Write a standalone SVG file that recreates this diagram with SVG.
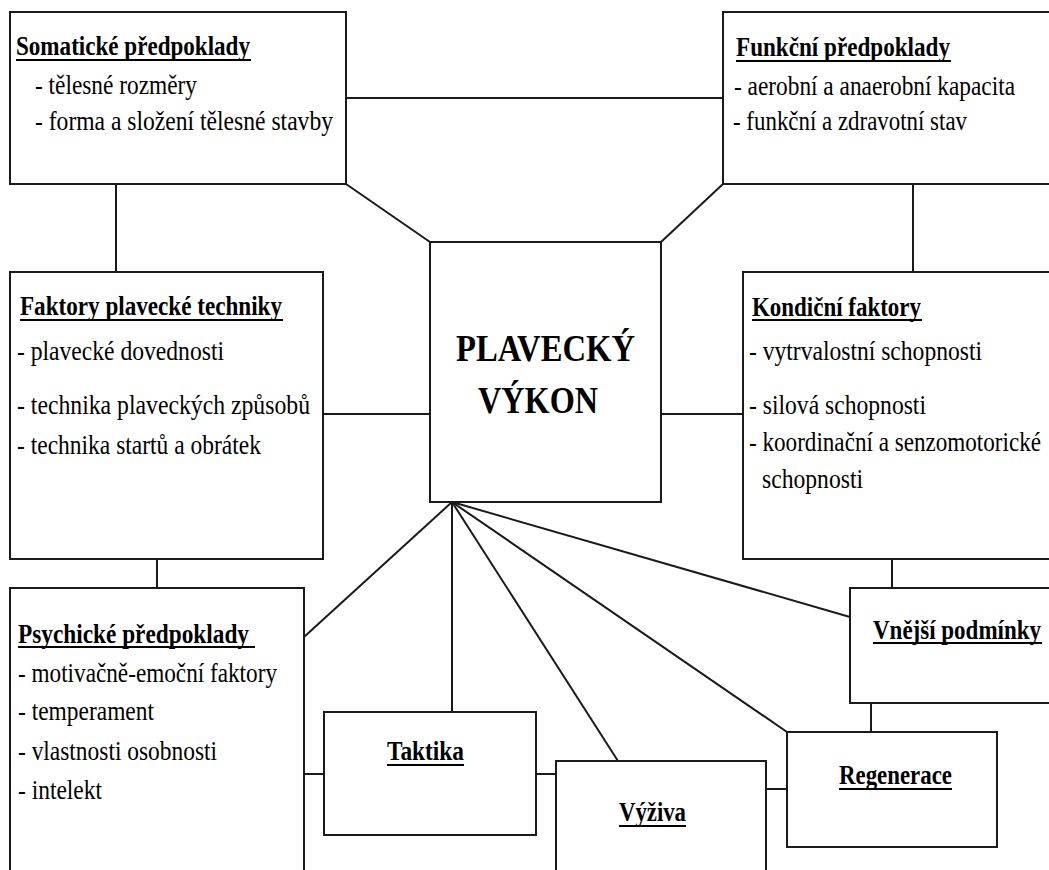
<svg xmlns="http://www.w3.org/2000/svg" width="1049" height="870" viewBox="0 0 1049 870">
<style>
.box{fill:#fff;stroke:#1a1a1a;stroke-width:2}
.c{stroke:#1a1a1a;stroke-width:2;fill:none}
.h{font-family:"Liberation Serif","Times New Roman",serif;font-weight:bold;font-size:27px;fill:#000}
.t{font-family:"Liberation Serif","Times New Roman",serif;font-size:28px;fill:#000}
.big{font-family:"Liberation Serif","Times New Roman",serif;font-weight:bold;font-size:38px;fill:#000}
.ul{stroke:#000;stroke-width:2}
</style>
<rect width="1049" height="870" fill="#fff"/>
<g id="connectors">
<line class="c" x1="346" y1="98" x2="723" y2="98"/>
<line class="c" x1="346" y1="184" x2="430" y2="242"/>
<line class="c" x1="723" y1="184" x2="661" y2="242"/>
<line class="c" x1="116" y1="184" x2="116" y2="272"/>
<line class="c" x1="913" y1="184" x2="913" y2="272"/>
<line class="c" x1="323" y1="414" x2="430" y2="414"/>
<line class="c" x1="661" y1="414" x2="743" y2="414"/>
<line class="c" x1="157" y1="559" x2="157" y2="588"/>
<line class="c" x1="892" y1="559" x2="892" y2="588"/>
<line class="c" x1="452" y1="502" x2="304" y2="637"/>
<line class="c" x1="452" y1="502" x2="452" y2="712"/>
<line class="c" x1="452" y1="502" x2="618" y2="761"/>
<line class="c" x1="452" y1="502" x2="787" y2="732"/>
<line class="c" x1="452" y1="502" x2="850" y2="617"/>
<line class="c" x1="304" y1="774" x2="324" y2="774"/>
<line class="c" x1="536" y1="774" x2="556" y2="774"/>
<line class="c" x1="766" y1="789" x2="787" y2="789"/>
<line class="c" x1="871" y1="703" x2="871" y2="732"/>
</g>
<g id="somaticke">
<rect class="box" x="10" y="12" width="336" height="172"/>
<text class="h" x="16" y="55" textLength="234" lengthAdjust="spacingAndGlyphs">Somatické předpoklady</text>
<line class="ul" x1="16" y1="60" x2="251" y2="60"/>
<text class="t" x="35" y="94" textLength="162" lengthAdjust="spacingAndGlyphs">- tělesné rozměry</text>
<text class="t" x="35" y="130" textLength="298" lengthAdjust="spacingAndGlyphs">- forma a složení tělesné stavby</text>
</g>
<g id="funkcni">
<rect class="box" x="723" y="12" width="340" height="172"/>
<text class="h" x="736" y="56" textLength="214" lengthAdjust="spacingAndGlyphs">Funkční předpoklady</text>
<line class="ul" x1="736" y1="61" x2="951" y2="61"/>
<text class="t" x="734" y="95" textLength="281" lengthAdjust="spacingAndGlyphs">- aerobní a anaerobní kapacita</text>
<text class="t" x="733" y="130" textLength="234" lengthAdjust="spacingAndGlyphs">- funkční a zdravotní stav</text>
</g>
<g id="plavecky-vykon">
<rect class="box" x="430" y="242" width="231" height="260"/>
<text class="big" x="456" y="361" textLength="179" lengthAdjust="spacingAndGlyphs">PLAVECKÝ</text>
<text class="big" x="478" y="413" textLength="120" lengthAdjust="spacingAndGlyphs">VÝKON</text>
</g>
<g id="faktory">
<rect class="box" x="10" y="272" width="313" height="287"/>
<text class="h" x="20" y="315" textLength="262" lengthAdjust="spacingAndGlyphs">Faktory plavecké techniky</text>
<line class="ul" x1="20" y1="320" x2="283" y2="320"/>
<text class="t" x="17" y="360" textLength="207" lengthAdjust="spacingAndGlyphs">- plavecké dovednosti</text>
<text class="t" x="17" y="414" textLength="293" lengthAdjust="spacingAndGlyphs">- technika plaveckých způsobů</text>
<text class="t" x="17" y="454" textLength="244" lengthAdjust="spacingAndGlyphs">- technika startů a obrátek</text>
</g>
<g id="kondicni">
<rect class="box" x="743" y="272" width="320" height="287"/>
<text class="h" x="752" y="316" textLength="169" lengthAdjust="spacingAndGlyphs">Kondiční faktory</text>
<line class="ul" x1="752" y1="320" x2="922" y2="320"/>
<text class="t" x="749" y="360" textLength="233" lengthAdjust="spacingAndGlyphs">- vytrvalostní schopnosti</text>
<text class="t" x="749" y="414" textLength="177" lengthAdjust="spacingAndGlyphs">- silová schopnosti</text>
<text class="t" x="749" y="451" textLength="292" lengthAdjust="spacingAndGlyphs">- koordinační a senzomotorické</text>
<text class="t" x="762" y="488" textLength="101" lengthAdjust="spacingAndGlyphs">schopnosti</text>
</g>
<g id="psychicke">
<rect class="box" x="10" y="588" width="294" height="300"/>
<text class="h" x="18" y="643" textLength="231" lengthAdjust="spacingAndGlyphs">Psychické předpoklady</text>
<line class="ul" x1="18" y1="647" x2="255" y2="647"/>
<text class="t" x="18" y="682" textLength="259" lengthAdjust="spacingAndGlyphs">- motivačně-emoční faktory</text>
<text class="t" x="18" y="720" textLength="136" lengthAdjust="spacingAndGlyphs">- temperament</text>
<text class="t" x="18" y="760" textLength="199" lengthAdjust="spacingAndGlyphs">- vlastnosti osobnosti</text>
<text class="t" x="18" y="799" textLength="84" lengthAdjust="spacingAndGlyphs">- intelekt</text>
</g>
<g id="vnejsi">
<rect class="box" x="850" y="588" width="213" height="115"/>
<text class="h" x="873" y="639" textLength="168" lengthAdjust="spacingAndGlyphs">Vnější podmínky</text>
<line class="ul" x1="873" y1="643" x2="1042" y2="643"/>
</g>
<g id="taktika">
<rect class="box" x="324" y="712" width="212" height="123"/>
<text class="h" x="387" y="760" textLength="77" lengthAdjust="spacingAndGlyphs">Taktika</text>
<line class="ul" x1="387" y1="765" x2="464" y2="765"/>
</g>
<g id="vyziva">
<rect class="box" x="556" y="761" width="210" height="130"/>
<text class="h" x="619" y="821" textLength="67" lengthAdjust="spacingAndGlyphs">Výživa</text>
<line class="ul" x1="619" y1="826" x2="686" y2="826"/>
</g>
<g id="regenerace">
<rect class="box" x="787" y="732" width="210" height="115"/>
<text class="h" x="839" y="784" textLength="113" lengthAdjust="spacingAndGlyphs">Regenerace</text>
<line class="ul" x1="839" y1="789" x2="952" y2="789"/>
</g>
</svg>
